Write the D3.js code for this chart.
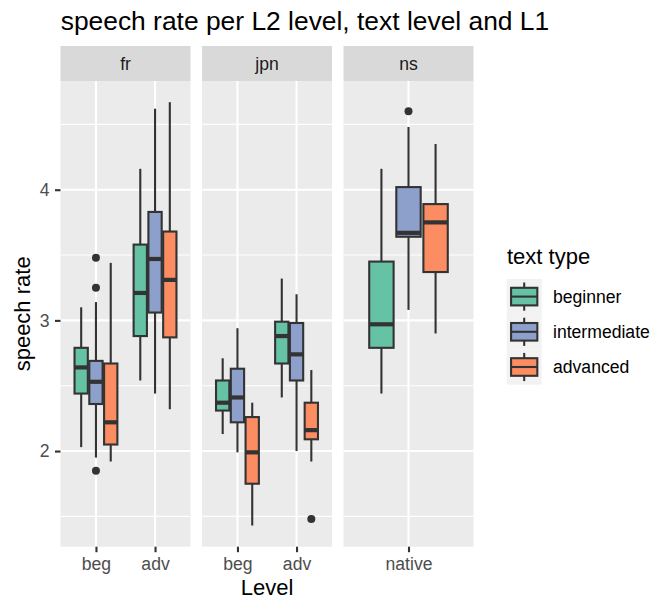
<!DOCTYPE html>
<html>
<head>
<meta charset="utf-8">
<script src="https://cdn.jsdelivr.net/npm/d3@7"></script>
<style>
  body { margin: 0; background: #fff; }
  svg { display: block; }
  text { font-family: "Liberation Sans", Arial, Helvetica, sans-serif; }
</style>
</head>
<body>
<svg id="chart" width="654" height="601"></svg>
<script>
// Facets (L1), their x categories (L2 level) and the fill groups (text type)
const panels = ["fr", "jpn", "ns"];
const panelLevels = [["beg", "adv"], ["beg", "adv"], ["native"]];
const textTypes = ["beginner", "intermediate", "advanced"];
const typeColors = ["#66C2A5", "#8DA0CB", "#FC8D62"];

// One entry per box, ordered panel -> level -> text type
const boxPanel = ["fr","fr","fr","fr","fr","fr","jpn","jpn","jpn","jpn","jpn","jpn","ns","ns","ns"];
const boxLevel = ["beg","beg","beg","adv","adv","adv","beg","beg","beg","adv","adv","adv","native","native","native"];
const boxType  = ["beginner","intermediate","advanced","beginner","intermediate","advanced",
                  "beginner","intermediate","advanced","beginner","intermediate","advanced",
                  "beginner","intermediate","advanced"];

// Box statistics (speech rate)
const whiskerLow  = [2.03, 1.95, 1.92, 2.54, 2.44, 2.32, 2.13, 1.99, 1.43, 2.41, 2.00, 1.92, 2.44, 3.08, 2.90];
const q1          = [2.44, 2.36, 2.05, 2.88, 3.06, 2.87, 2.31, 2.22, 1.75, 2.67, 2.54, 2.09, 2.79, 3.64, 3.37];
const median      = [2.64, 2.53, 2.22, 3.21, 3.47, 3.31, 2.37, 2.41, 1.99, 2.88, 2.74, 2.16, 2.97, 3.67, 3.75];
const q3          = [2.79, 2.69, 2.67, 3.58, 3.83, 3.68, 2.54, 2.63, 2.26, 2.99, 2.98, 2.37, 3.45, 4.02, 3.89];
const whiskerHigh = [3.10, 3.14, 3.44, 4.16, 4.62, 4.67, 2.71, 2.94, 2.37, 3.32, 3.20, 2.62, 4.16, 4.48, 4.35];

// Outlying observations: index of the box they belong to, and their value
const outlierBox   = [1, 1, 1, 11, 13];
const outlierValue = [3.48, 3.25, 1.85, 1.48, 4.60];

const yTicks = [2, 3, 4];
const yMinorTicks = [1.5, 2.5, 3.5, 4.5];

// ---- layout ----
const svg = d3.select("#chart");
const panelLeft = 60.5, panelW = 130, panelGap = 11.5;
const stripTop = 46, stripH = 35;
const panelTop = stripTop + stripH, panelBottom = 546.7;
const dark = "#333333";

svg.append("rect").attr("width", 654).attr("height", 601).attr("fill", "#fff");

// y scale with 5% expansion around the data range
const allVals = whiskerLow.concat(whiskerHigh, outlierValue);
const yMin = d3.min(allVals), yMax = d3.max(allVals);
const pad = (yMax - yMin) * 0.05;
const y = d3.scaleLinear().domain([yMin - pad, yMax + pad]).range([panelBottom, panelTop]);

panels.forEach((p, pi) => {
  const x0 = panelLeft + pi * (panelW + panelGap);
  const g = svg.append("g").attr("transform", `translate(${x0},0)`);
  const x = d3.scalePoint().domain(panelLevels[pi]).range([0, panelW]).padding(0.6);
  const step = x.step();

  g.append("rect").attr("x", 0).attr("y", panelTop)
    .attr("width", panelW).attr("height", panelBottom - panelTop).attr("fill", "#EBEBEB");

  g.selectAll("line.minor").data(yMinorTicks).join("line")
    .attr("x1", 0).attr("x2", panelW)
    .attr("y1", d => y(d)).attr("y2", d => y(d))
    .attr("stroke", "#fff").attr("stroke-width", 1.05);
  g.selectAll("line.major").data(yTicks).join("line")
    .attr("x1", 0).attr("x2", panelW)
    .attr("y1", d => y(d)).attr("y2", d => y(d))
    .attr("stroke", "#fff").attr("stroke-width", 2.1);
  g.selectAll("line.vmajor").data(panelLevels[pi]).join("line")
    .attr("x1", d => x(d)).attr("x2", d => x(d))
    .attr("y1", panelTop).attr("y2", panelBottom)
    .attr("stroke", "#fff").attr("stroke-width", 2.1);

  // boxes for this facet (dodged by text type, 10% padding between boxes)
  const slot = 0.25 * step;
  const bw = slot * 0.9;
  const idx = d3.range(boxPanel.length).filter(i => boxPanel[i] === p);
  idx.forEach(i => {
    const t = textTypes.indexOf(boxType[i]);
    const cx = x(boxLevel[i]) + (t - 1) * slot;
    const bg = g.append("g");
    bg.append("line").attr("x1", cx).attr("x2", cx)
      .attr("y1", y(whiskerHigh[i])).attr("y2", y(q3[i]))
      .attr("stroke", dark).attr("stroke-width", 2.1);
    bg.append("line").attr("x1", cx).attr("x2", cx)
      .attr("y1", y(q1[i])).attr("y2", y(whiskerLow[i]))
      .attr("stroke", dark).attr("stroke-width", 2.1);
    bg.append("rect").attr("x", cx - bw / 2).attr("width", bw)
      .attr("y", y(q3[i])).attr("height", y(q1[i]) - y(q3[i]))
      .attr("fill", typeColors[t]).attr("stroke", dark).attr("stroke-width", 2.1);
    bg.append("line").attr("x1", cx - bw / 2).attr("x2", cx + bw / 2)
      .attr("y1", y(median[i])).attr("y2", y(median[i]))
      .attr("stroke", dark).attr("stroke-width", 4.2);
    outlierBox.forEach((b, k) => {
      if (b === i) {
        bg.append("circle").attr("cx", cx).attr("cy", y(outlierValue[k]))
          .attr("r", 4).attr("fill", dark);
      }
    });
  });

  // facet strip
  g.append("rect").attr("x", 0).attr("y", stripTop)
    .attr("width", panelW).attr("height", stripH).attr("fill", "#D9D9D9");
  g.append("text").attr("x", panelW / 2).attr("y", stripTop + stripH / 2)
    .attr("dy", "0.35em").attr("text-anchor", "middle")
    .attr("font-size", 17.6).attr("fill", "#1A1A1A").text(p);

  // x axis
  const ax = g.append("g").attr("transform", `translate(0,${panelBottom})`)
    .call(d3.axisBottom(x).tickSize(5.5).tickPadding(5));
  ax.select(".domain").remove();
  ax.selectAll(".tick line").attr("stroke", dark).attr("stroke-width", 2.1);
  ax.selectAll(".tick text").attr("fill", "#4D4D4D").attr("font-size", 17.6)
    .style("font-family", '"Liberation Sans", Arial, sans-serif');
});

// y axis on the first facet
const ay = svg.append("g").attr("transform", `translate(${panelLeft},0)`)
  .call(d3.axisLeft(y).tickValues(yTicks).tickFormat(d3.format("d")).tickSize(5.5).tickPadding(5.5));
ay.select(".domain").remove();
ay.selectAll(".tick line").attr("stroke", dark).attr("stroke-width", 2.1);
ay.selectAll(".tick text").attr("fill", "#4D4D4D").attr("font-size", 17.6)
  .style("font-family", '"Liberation Sans", Arial, sans-serif');

// titles
svg.append("text").attr("x", 60.7).attr("y", 30)
  .attr("font-size", 26.4).attr("fill", "#000")
  .text("speech rate per L2 level, text level and L1");
const panelsRight = panelLeft + 3 * panelW + 2 * panelGap;
svg.append("text").attr("x", (panelLeft + panelsRight) / 2).attr("y", 595)
  .attr("text-anchor", "middle").attr("font-size", 22).attr("fill", "#000").text("Level");
svg.append("text")
  .attr("transform", `translate(29.5,${(panelTop + panelBottom) / 2}) rotate(-90)`)
  .attr("text-anchor", "middle").attr("font-size", 22).attr("fill", "#000").text("speech rate");

// legend
const lg = svg.append("g");
lg.append("text").attr("x", 507).attr("y", 264).attr("font-size", 22).attr("fill", "#000").text("text type");
const keyX = 506.7, keyW = 35, keyH = 35.2, keyTop = 279;
textTypes.forEach((tt, i) => {
  const top = keyTop + i * keyH;
  const cx = keyX + keyW / 2;
  const k = lg.append("g");
  k.append("rect").attr("x", keyX).attr("y", top).attr("width", keyW).attr("height", keyH).attr("fill", "#F2F2F2");
  k.append("line").attr("x1", cx).attr("x2", cx).attr("y1", top + keyH * 0.1).attr("y2", top + keyH * 0.9)
    .attr("stroke", dark).attr("stroke-width", 2.1);
  k.append("rect").attr("x", keyX + keyW * 0.125).attr("y", top + keyH * 0.25)
    .attr("width", keyW * 0.75).attr("height", keyH * 0.5)
    .attr("fill", typeColors[i]).attr("stroke", dark).attr("stroke-width", 2.1);
  k.append("line").attr("x1", keyX + keyW * 0.125).attr("x2", keyX + keyW * 0.875)
    .attr("y1", top + keyH / 2).attr("y2", top + keyH / 2)
    .attr("stroke", dark).attr("stroke-width", 2.1);
  k.append("text").attr("x", 553).attr("y", top + keyH / 2).attr("dy", "0.35em")
    .attr("font-size", 17.6).attr("fill", "#000").text(tt);
});
</script>
</body>
</html>
